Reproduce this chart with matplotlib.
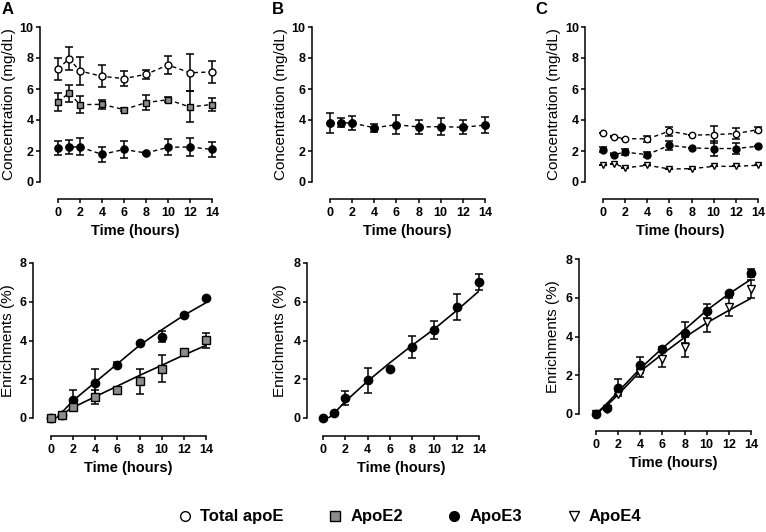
import matplotlib
matplotlib.use("Agg")
import matplotlib.pyplot as plt
from matplotlib.lines import Line2D
import numpy as np

plt.rcParams['font.family'] = ['Liberation Sans', 'DejaVu Sans']

W, H = 766, 532

# ---------------- data ----------------
time = [0, 1, 2, 4, 6, 8, 10, 12, 14]
x_ticks = [0, 2, 4, 6, 8, 10, 12, 14]

# Panel A (concentration)
A_total = [7.27, 7.96, 7.16, 6.82, 6.67, 6.95, 7.55, 7.05, 7.10]
A_total_err = [0.72, 0.72, 0.90, 0.70, 0.50, 0.30, 0.58, 1.20, 0.70]
A_e2 = [5.16, 5.74, 4.99, 5.01, 4.67, 5.12, 5.31, 4.84, 5.00]
A_e2_err = [0.56, 0.55, 0.55, 0.30, 0.10, 0.50, 0.15, 1.00, 0.40]
A_e3 = [2.19, 2.26, 2.26, 1.78, 2.10, 1.87, 2.24, 2.26, 2.10]
A_e3_err = [0.45, 0.47, 0.55, 0.50, 0.55, 0.08, 0.52, 0.60, 0.50]

# Panel B (concentration)
B_e3 = [3.82, 3.82, 3.80, 3.50, 3.70, 3.55, 3.57, 3.53, 3.67]
B_e3_err = [0.65, 0.30, 0.45, 0.25, 0.62, 0.45, 0.55, 0.45, 0.50]

# Panel C (concentration)
C_total = [3.17, 2.91, 2.80, 2.78, 3.28, 3.02, 3.06, 3.12, 3.38]
C_total_err = [0.0, 0.0, 0.0, 0.20, 0.30, 0.0, 0.55, 0.35, 0.18]
C_e3 = [2.09, 1.77, 1.92, 1.77, 2.37, 2.20, 2.16, 2.16, 2.31]
C_e3_err = [0.18, 0.0, 0.18, 0.18, 0.30, 0.0, 0.50, 0.35, 0.0]
C_e4 = [1.08, 1.19, 0.91, 1.08, 0.84, 0.86, 1.01, 1.01, 1.08]
C_e4_err = [0.0, 0.0, 0.0, 0.0, 0.0, 0.0, 0.0, 0.0, 0.0]

# Panel A (enrichment)
A_enr_e3 = [0.0, 0.15, 0.93, 1.80, 2.76, 3.88, 4.20, 5.30, 6.20]
A_enr_e3_err = [0.0, 0.0, 0.50, 0.72, 0.15, 0.0, 0.27, 0.0, 0.0]
A_enr_e2 = [0.0, 0.17, 0.57, 1.10, 1.43, 1.89, 2.55, 3.41, 4.01]
A_enr_e2_err = [0.0, 0.0, 0.0, 0.36, 0.15, 0.63, 0.70, 0.12, 0.40]
A_fit_t = [0.5, 1, 2, 4, 6, 8, 10, 12, 14]
A_fit_e3 = [0.0, 0.30, 0.90, 1.85, 2.80, 3.75, 4.55, 5.30, 5.95]
A_fit_e2 = [0.0, 0.20, 0.55, 1.10, 1.65, 2.20, 2.72, 3.25, 3.75]

# Panel B (enrichment)
B_enr_e3 = [0.0, 0.26, 1.03, 1.94, 2.53, 3.67, 4.53, 5.73, 7.02]
B_enr_e3_err = [0.0, 0.0, 0.35, 0.65, 0.0, 0.55, 0.47, 0.69, 0.43]
B_fit_t = [0.5, 1, 2, 4, 6, 8, 10, 12, 14]
B_fit_e3 = [0.0, 0.25, 0.85, 1.90, 2.85, 3.75, 4.60, 5.55, 6.55]

# Panel C (enrichment)
C_enr_e3 = [0.0, 0.29, 1.36, 2.53, 3.35, 4.20, 5.33, 6.23, 7.26]
C_enr_e3_err = [0.0, 0.0, 0.43, 0.40, 0.12, 0.55, 0.35, 0.0, 0.20]
C_enr_e4 = [0.0, 0.25, 1.03, 2.12, 2.82, 3.47, 4.76, 5.54, 6.45]
C_enr_e4_err = [0.0, 0.0, 0.0, 0.20, 0.38, 0.52, 0.55, 0.47, 0.48]
C_fit_t = [0, 1, 2, 4, 6, 8, 10, 12, 14]
C_fit_e3 = [0.0, 0.55, 1.15, 2.35, 3.40, 4.35, 5.35, 6.20, 6.95]
C_fit_e4 = [0.0, 0.45, 1.00, 2.20, 3.10, 3.95, 4.70, 5.35, 5.97]

series_labels = ['Total apoE', 'ApoE2', 'ApoE3', 'ApoE4']
panel_letters = ['A', 'B', 'C']

GRAY = '#8c8c8c'
styles = {
    'total': dict(marker='o', mfc='white', mec='black'),
    'e2': dict(marker='s', mfc=GRAY, mec='black'),
    'e3': dict(marker='o', mfc='black', mec='black'),
    'e4': dict(marker='v', mfc='white', mec='black'),
}

fig = plt.figure(figsize=(W / 100, H / 100), dpi=100)


def make_ax(x0, x14, y0, ytop, ymax, spine_x, spine_y, ylabel, ylab_x, xlab_y):
    ax = fig.add_axes([x0 / W, 1 - y0 / H, (x14 - x0) / W, (y0 - ytop) / H])
    ax.set_xlim(0, 14)
    ax.set_ylim(0, ymax)
    for s in ['top', 'right']:
        ax.spines[s].set_visible(False)
    ax.spines['left'].set_position(('outward', (x0 - spine_x) * 0.72))
    ax.spines['bottom'].set_position(('outward', (spine_y - y0) * 0.72))
    ax.spines['left'].set_bounds(0, ymax)
    ax.spines['bottom'].set_bounds(0, 14)
    for s in ['left', 'bottom']:
        ax.spines[s].set_linewidth(1.1)
    ax.set_xticks(x_ticks)
    ax.set_yticks(np.arange(0, ymax + 1, 2))
    ax.tick_params(direction='out', length=3, width=1.1, labelsize=9, pad=1.5)
    ax.tick_params(axis='x', pad=2.5)
    for lbl in ax.get_xticklabels() + ax.get_yticklabels():
        lbl.set_fontweight('bold')
    ax.set_ylabel(ylabel, fontsize=11)
    ax.yaxis.label.set_va('center')
    ax.yaxis.set_label_coords(ylab_x / W, 1 - ((y0 + ytop) / 2) / H, transform=fig.transFigure)
    ax.set_xlabel('Time (hours)', fontsize=10.5, fontweight='bold')
    ax.xaxis.label.set_va('center')
    ax.xaxis.set_label_coords(((x0 + x14) / 2) / W, 1 - xlab_y / H, transform=fig.transFigure)
    return ax


def eb(ax, x, y, err, key, ms, ls):
    st = styles[key]
    ax.errorbar(x, y, yerr=err, fmt='none', ecolor='black', elinewidth=1.1,
                capsize=2.6, capthick=1.1, zorder=3, clip_on=False)
    ax.plot(x, y, linestyle=ls, color='black', lw=1.0, dashes=(3, 2.4) if ls == '--' else (None, None),
            marker=st['marker'], mfc=st['mfc'], mec=st['mec'], ms=ms, mew=1.0,
            zorder=4, clip_on=False)


def eb2(ax, x, y, err, key, ms):
    st = styles[key]
    ax.errorbar(x, y, yerr=err, fmt='none', ecolor='black', elinewidth=1.1,
                capsize=2.6, capthick=1.1, zorder=3, clip_on=False)
    ax.plot(x, y, linestyle='none', marker=st['marker'], mfc=st['mfc'], mec=st['mec'],
            ms=ms, mew=1.0, zorder=4, clip_on=False)


# ---- top row ----
axA = make_ax(58, 212, 182, 27, 10, 40, 199, 'Concentration (mg/dL)', 9, 231)
eb(axA, time, A_total, A_total_err, 'total', 5.0, '--')
eb(axA, time, A_e2, A_e2_err, 'e2', 5.0, '--')
eb(axA, time, A_e3, A_e3_err, 'e3', 5.2, '--')

axB = make_ax(330, 485, 182, 27, 10, 312, 199, 'Concentration (mg/dL)', 281, 231)
eb(axB, time, B_e3, B_e3_err, 'e3', 5.4, '--')

axC = make_ax(603, 758, 182, 27, 10, 585, 199, 'Concentration (mg/dL)', 554, 231)
eb(axC, time, C_total, C_total_err, 'total', 4.6, '--')
eb(axC, time, C_e3, C_e3_err, 'e3', 5.0, '--')
eb(axC, time, C_e4, C_e4_err, 'e4', 4.8, '--')

# ---- bottom row ----
axA2 = make_ax(51, 206, 418, 263, 8, 33, 436, 'Enrichments (%)', 8, 468)
axA2.plot(A_fit_t, A_fit_e3, color='black', lw=1.2, zorder=2)
axA2.plot(A_fit_t, A_fit_e2, color='black', lw=1.2, zorder=2)
eb2(axA2, time, A_enr_e3, A_enr_e3_err, 'e3', 6.0)
eb2(axA2, time, A_enr_e2, A_enr_e2_err, 'e2', 5.6)

axB2 = make_ax(323, 479, 418, 263, 8, 307, 436, 'Enrichments (%)', 280, 468)
axB2.plot(B_fit_t, B_fit_e3, color='black', lw=1.2, zorder=2)
eb2(axB2, time, B_enr_e3, B_enr_e3_err, 'e3', 6.0)

axC2 = make_ax(596, 751, 414, 259, 8, 579, 431, 'Enrichments (%)', 553, 463)
axC2.plot(C_fit_t, C_fit_e3, color='black', lw=1.2, zorder=2)
axC2.plot(C_fit_t, C_fit_e4, color='black', lw=1.2, zorder=2)
eb2(axC2, time, C_enr_e4, C_enr_e4_err, 'e4', 6.0)
eb2(axC2, time, C_enr_e3, C_enr_e3_err, 'e3', 6.0)

# panel letters
for letter, px in zip(panel_letters, [2, 272, 535]):
    fig.text(px / W, 1 - 9 / H, letter, fontsize=12, fontweight='bold', va='center', ha='left')

# legend
keys = ['total', 'e2', 'e3', 'e4']
handles = [Line2D([], [], linestyle='none', marker=styles[k]['marker'], mfc=styles[k]['mfc'],
                  mec='black', ms=7, mew=1.0) for k in keys]
fig.legend(handles, series_labels, loc='center', bbox_to_anchor=(409 / W, 1 - 517 / H), ncol=4,
           frameon=False, prop={'weight': 'bold', 'size': 12}, handletextpad=0.4,
           columnspacing=2.6, handlelength=1.0)

fig.savefig('out.png', dpi=100)
